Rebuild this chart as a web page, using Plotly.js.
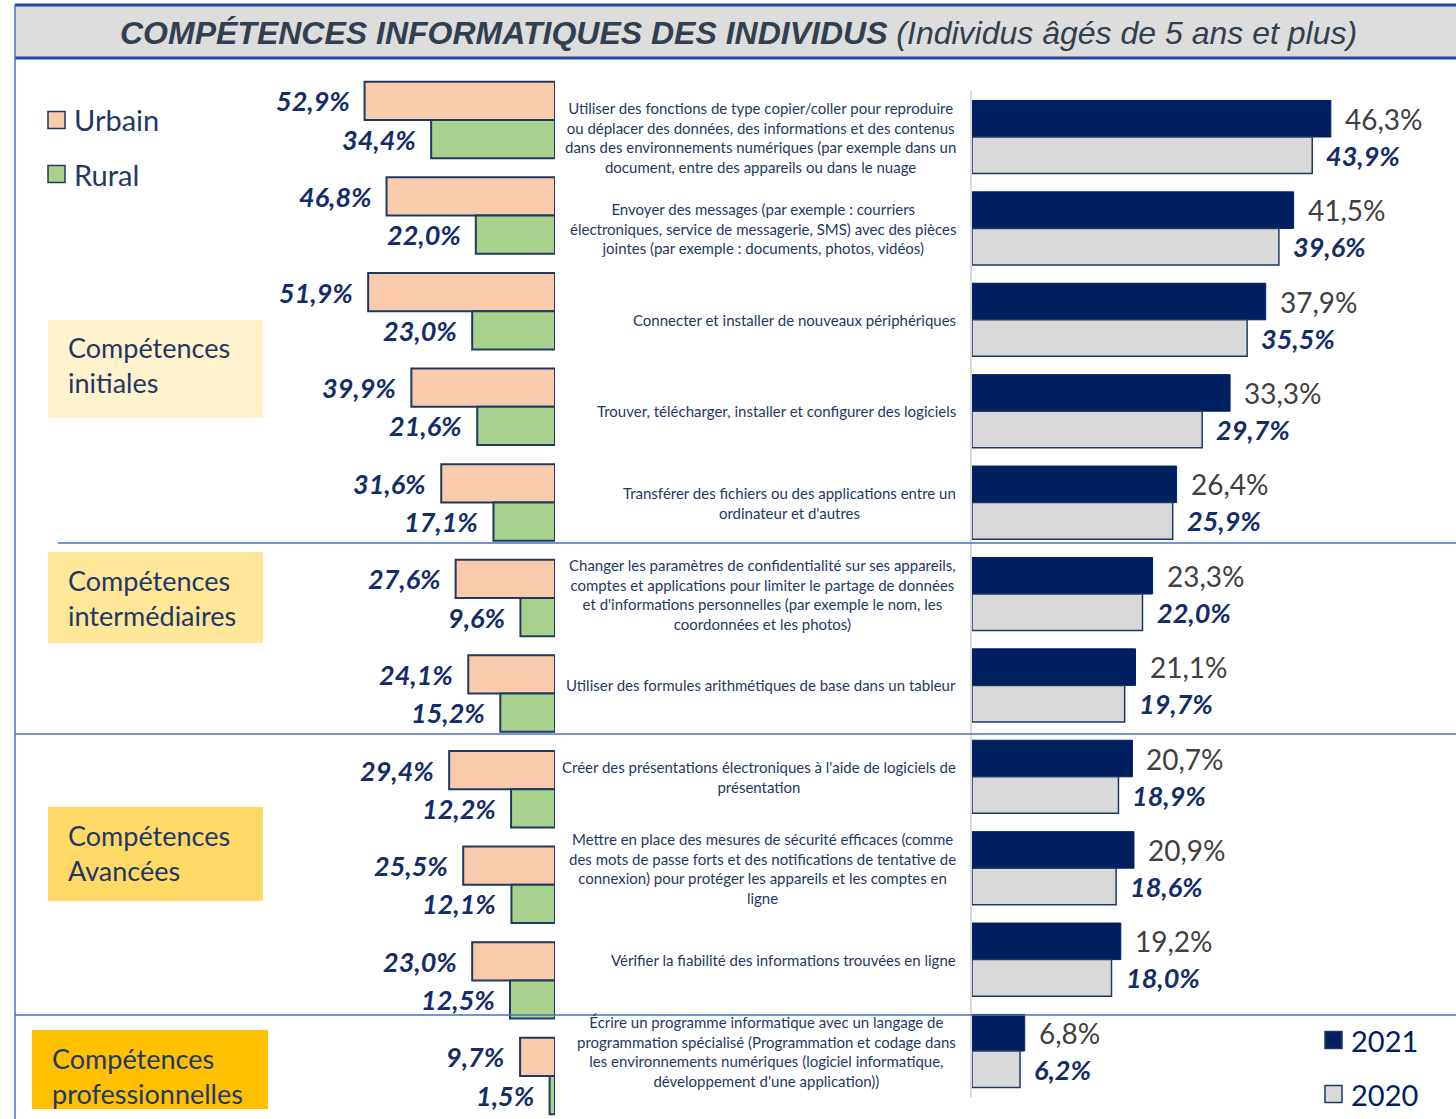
<!DOCTYPE html>
<html>
<head>
<meta charset="utf-8">
<script src="https://cdn.plot.ly/plotly-3.0.1.min.js"></script>
<style>
  html, body { margin: 0; padding: 0; background: #fff; }
  #graph { width: 1456px; height: 1119px; }
</style>
</head>
<body>
<div id="graph"></div>
<script>
// Skills (center labels), one per row
const items = [
    "Utiliser des fonctions de type copier/coller pour reproduire<br>ou déplacer des données, des informations et des contenus<br>dans des environnements numériques (par exemple dans un<br>document, entre des appareils ou dans le nuage",
    "Envoyer des messages (par exemple : courriers<br>électroniques, service de messagerie, SMS) avec des pièces<br>jointes (par exemple : documents, photos, vidéos)",
    "Connecter et installer de nouveaux périphériques",
    "Trouver, télécharger, installer et configurer des logiciels",
    "Transférer des fichiers ou des applications entre un<br>ordinateur et d'autres",
    "Changer les paramètres de confidentialité sur ses appareils,<br>comptes et applications pour limiter le partage de données<br>et d'informations personnelles (par exemple le nom, les<br>coordonnées et les photos)",
    "Utiliser des formules arithmétiques de base dans un tableur",
    "Créer des présentations électroniques à l'aide de logiciels de<br>présentation",
    "Mettre en place des mesures de sécurité efficaces (comme<br>des mots de passe forts et des notifications de tentative de<br>connexion) pour protéger les appareils et les comptes en<br>ligne",
    "Vérifier la fiabilité des informations trouvées en ligne",
    "Écrire un programme informatique avec un langage de<br>programmation spécialisé (Programmation et codage dans<br>les environnements numériques (logiciel informatique,<br>développement d'une application))"
];

// Left side : milieu de résidence (2021)
const urbain = [52.9, 46.8, 51.9, 39.9, 31.6, 27.6, 24.1, 29.4, 25.5, 23.0, 9.7];
const rural  = [34.4, 22.0, 23.0, 21.6, 17.1, 9.6, 15.2, 12.2, 12.1, 12.5, 1.5];

// Right side : ensemble, par année
const v2021 = [46.3, 41.5, 37.9, 33.3, 26.4, 23.3, 21.1, 20.7, 20.9, 19.2, 6.8];
const v2020 = [43.9, 39.6, 35.5, 29.7, 25.9, 22.0, 19.7, 18.9, 18.6, 18.0, 6.2];

// Skill level groups
const groups = ["Compétences<br>initiales", "Compétences<br>intermédiaires", "Compétences<br>Avancées", "Compétences<br>professionnelles"];

const W = 1456, H = 1119;
const fx = p => p / W;       // pixel -> paper x
const fy = p => 1 - p / H;   // pixel -> paper y

const NAVY = '#1f3864';
const FONT = 'Lato, Carlito, "Open Sans", sans-serif';
const fmt = v => v.toFixed(1).replace('.', ',') + '%';

const traces = [
    {
        type: 'bar', orientation: 'h', name: 'Urbain',
        x: urbain, y: items, xaxis: 'x', yaxis: 'y',
        marker: { color: '#f8cbad', line: { color: '#203864', width: 2 } },
        hoverinfo: 'x'
    },
    {
        type: 'bar', orientation: 'h', name: 'Rural',
        x: rural, y: items, xaxis: 'x', yaxis: 'y',
        marker: { color: '#a9d18e', line: { color: '#203864', width: 2 } },
        hoverinfo: 'x'
    },
    {
        type: 'bar', orientation: 'h', name: '2021',
        x: v2021, y: items, xaxis: 'x2', yaxis: 'y2',
        marker: { color: '#002060', line: { color: '#002060', width: 1 } },
        hoverinfo: 'x'
    },
    {
        type: 'bar', orientation: 'h', name: '2020',
        x: v2020, y: items, xaxis: 'x2', yaxis: 'y2',
        marker: { color: '#d9d9d9', line: { color: '#203864', width: 1.5 } },
        hoverinfo: 'x'
    }
];

const annotations = [];

// value labels
items.forEach((it, i) => {
    annotations.push({
        xref: 'x', yref: 'y', x: urbain[i], y: i - 0.2, xanchor: 'right', xshift: -13,
        text: '<b><i>' + fmt(urbain[i]) + '</i></b>', showarrow: false,
        font: { family: FONT, size: 27, color: '#142d68' }
    });
    annotations.push({
        xref: 'x', yref: 'y', x: rural[i], y: i + 0.2, xanchor: 'right', xshift: -13,
        text: '<b><i>' + fmt(rural[i]) + '</i></b>', showarrow: false,
        font: { family: FONT, size: 27, color: '#142d68' }
    });
    annotations.push({
        xref: 'x2', yref: 'y2', x: v2021[i], y: i - 0.2, xanchor: 'left', xshift: 12,
        text: fmt(v2021[i]), showarrow: false,
        font: { family: FONT, size: 28, color: '#404040' }
    });
    annotations.push({
        xref: 'x2', yref: 'y2', x: v2020[i], y: i + 0.2, xanchor: 'left', xshift: 12,
        text: '<b><i>' + fmt(v2020[i]) + '</i></b>', showarrow: false,
        font: { family: FONT, size: 27, color: '#142d68' }
    });
    // skill description
    annotations.push({
        xref: 'paper', yref: 'y2', x: fx(958), y: i, xanchor: 'right', yanchor: 'middle',
        align: 'center', text: it, showarrow: false,
        font: { family: FONT, size: 15, color: NAVY }
    });
});

// title
annotations.push({
    xref: 'paper', yref: 'paper', x: fx(738), y: fy(33), xanchor: 'center', yanchor: 'middle',
    text: '<b><i>COMPÉTENCES INFORMATIQUES DES INDIVIDUS</i></b> <i>(Individus âgés de 5 ans et plus)</i>',
    showarrow: false,
    font: { family: '"Liberation Sans", Arial, sans-serif', size: 32, color: '#323f4f' }
});

// group boxes
const groupBoxes = [
    { x0: 48, x1: 263, y0: 320, y1: 418, color: '#fff2cc', tx: 66, ty: 365 },
    { x0: 48, x1: 263, y0: 552, y1: 643, color: '#ffe699', tx: 66, ty: 598 },
    { x0: 48, x1: 263, y0: 807, y1: 901, color: '#ffd966', tx: 66, ty: 853 },
    { x0: 32, x1: 268, y0: 1030, y1: 1109, color: '#ffc000', tx: 50, ty: 1076 }
];

const shapes = [];

groupBoxes.forEach((b, k) => {
    shapes.push({
        type: 'rect', xref: 'paper', yref: 'paper', layer: 'below',
        x0: fx(b.x0), x1: fx(b.x1), y0: fy(b.y1), y1: fy(b.y0),
        fillcolor: b.color, line: { width: 0 }
    });
    annotations.push({
        xref: 'paper', yref: 'paper', x: fx(b.tx), y: fy(b.ty),
        xanchor: 'left', yanchor: 'middle', align: 'left',
        text: groups[k], showarrow: false,
        font: { family: FONT, size: 27, color: NAVY }
    });
});

// title band
shapes.push({ type: 'rect', xref: 'paper', yref: 'paper', layer: 'below',
    x0: fx(15), x1: 1, y0: fy(58), y1: fy(6), fillcolor: '#dddddd', line: { width: 0 } });
shapes.push({ type: 'line', xref: 'paper', yref: 'paper',
    x0: fx(15), x1: 1, y0: fy(5), y1: fy(5), line: { color: '#2446a0', width: 3 } });
shapes.push({ type: 'line', xref: 'paper', yref: 'paper',
    x0: fx(15), x1: 1, y0: fy(58), y1: fy(58), line: { color: '#2446a0', width: 3 } });

// frame and separators
shapes.push({ type: 'line', xref: 'paper', yref: 'paper',
    x0: fx(15), x1: fx(15), y0: 0, y1: fy(4), line: { color: '#4472c4', width: 1.5 } });
[[58, 543], [15, 734], [15, 1015]].forEach(([x, y]) => {
    shapes.push({ type: 'line', xref: 'paper', yref: 'paper',
        x0: fx(x), x1: 1, y0: fy(y), y1: fy(y), line: { color: '#4472c4', width: 1.5 } });
});

// legends (squares + text)
const legendItems = [
    { name: 'Urbain', x: 48, y: 120, fill: '#f8cbad' },
    { name: 'Rural', x: 48, y: 174, fill: '#a9d18e' },
    { name: '2021', x: 1325, y: 1040, fill: '#002060' },
    { name: '2020', x: 1325, y: 1094, fill: '#d9d9d9' }
];
legendItems.forEach(l => {
    shapes.push({ type: 'rect', xref: 'paper', yref: 'paper',
        x0: fx(l.x), x1: fx(l.x + 17), y0: fy(l.y + 8.5), y1: fy(l.y - 8.5),
        fillcolor: l.fill, line: { color: '#203864', width: 1.5 } });
    annotations.push({
        xref: 'paper', yref: 'paper', x: fx(l.x + 24), y: fy(l.y),
        xanchor: 'left', yanchor: 'middle', text: l.name, showarrow: false,
        font: { family: FONT, size: 29, color: l.name.startsWith('20') ? '#002060' : NAVY }
    });
});

const layout = {
    width: W, height: H,
    margin: { l: 0, r: 0, t: 0, b: 0 },
    paper_bgcolor: '#ffffff',
    plot_bgcolor: 'rgba(0,0,0,0)',
    barmode: 'group',
    bargap: 0.2,
    bargroupgap: 0,
    showlegend: false,
    xaxis: { domain: [fx(285), fx(555)], range: [75, 0], visible: false, fixedrange: true },
    yaxis: { domain: [0, fy(72.2)], type: 'category', range: [10.45, -0.5],
             visible: false, fixedrange: true },
    xaxis2: { domain: [fx(972), fx(1437)], range: [0, 60], anchor: 'y2',
              visible: false, fixedrange: true },
    yaxis2: { domain: [fy(1096.7), fy(91.3)], type: 'category', range: [10.5, -0.5],
              anchor: 'x2', showticklabels: false, ticks: '', showgrid: false,
              showline: true, linecolor: '#d9d9d9', linewidth: 2, fixedrange: true },
    shapes: shapes,
    annotations: annotations
};

Plotly.newPlot('graph', traces, layout, { displayModeBar: false, staticPlot: true });
</script>
</body>
</html>
